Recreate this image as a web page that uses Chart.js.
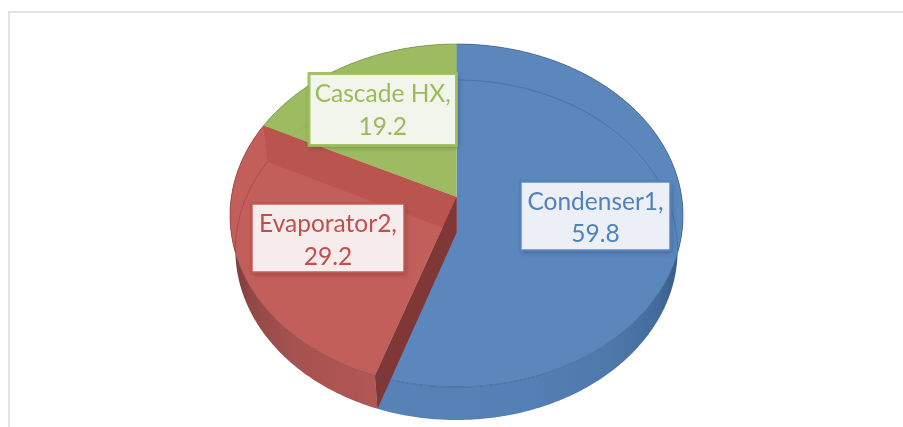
<!DOCTYPE html>
<html>
<head>
<meta charset="utf-8">
<script src="https://cdn.jsdelivr.net/npm/chart.js@4"></script>
<style>
html,body{margin:0;padding:0;background:#fff;overflow:hidden}
#wrap{position:absolute;left:0;top:0;width:903px;height:427px}
#frame{position:absolute;left:8px;top:11px;right:0;bottom:0;border-left:2px solid #e2e2e2;border-top:2px solid #e2e2e2}
canvas{position:absolute;left:0;top:0;filter:blur(0.35px)}
</style>
</head>
<body>
<div id="wrap"><div id="frame"></div><canvas id="c" width="903" height="427"></canvas></div>
<script>
const categories = ['Condenser1', 'Evaporator2', 'Cascade HX'];
const values = [59.8, 29.2, 19.2];
const faceColors = ['#5b87bd', '#c25f5b', '#9dbb61'];
const textColors = ['#4f81bd', '#c0504d', '#9bbb59'];

// Perspective projection of the unit disc onto the page (top and bottom faces)
const topFace = {cx: 456.5, R: 225.2, c: 197, a: 148.25, k: -0.1079};
const botFace = {cx: 456.5, R: 220, c: 233, a: 145, k: -0.1};
function proj(f, ang) {
  const x = Math.cos(ang), y = Math.sin(ang), d = 1 + f.k * y;
  return [f.cx + f.R * x / d, (f.c + f.a * y) / d];
}
function centre(f) { return [f.cx, f.c]; }
function rim(ctx, f, a0, a1, move) {
  const n = Math.max(2, Math.ceil(Math.abs(a1 - a0) / 0.01));
  for (let i = 0; i <= n; i++) {
    const p = proj(f, a0 + (a1 - a0) * i / n);
    if (i === 0 && move) ctx.moveTo(p[0], p[1]); else ctx.lineTo(p[0], p[1]);
  }
}
function wedge(ctx, f, a0, a1) {
  ctx.beginPath();
  const c = centre(f);
  ctx.moveTo(c[0], c[1]);
  rim(ctx, f, a0, a1, false);
  ctx.closePath();
}
function quad(ctx, pts) {
  ctx.beginPath();
  pts.forEach((p, i) => i ? ctx.lineTo(p[0], p[1]) : ctx.moveTo(p[0], p[1]));
  ctx.closePath();
}
function hGrad(ctx, x0, x1, stops) {
  const g = ctx.createLinearGradient(x0, 0, x1, 0);
  stops.forEach(s => g.addColorStop(s[0], s[1]));
  return g;
}

const pie3d = {
  id: 'pie3d',
  beforeDatasetsDraw(chart) {
    const ctx = chart.ctx;
    const arcs = chart.getDatasetMeta(0).data;
    const wallFill = [
      hGrad(ctx, 380, 680, [[0, '#5782b8'], [0.5, '#5580b5'], [0.78, '#4e78aa'], [0.93, '#426b9b'], [1, '#365a86']]),
      hGrad(ctx, 234, 380, [[0, '#7d3b39'], [0.12, '#934846'], [0.4, '#a65250'], [1, '#b25755']]),
      '#8aa655'
    ];
    ctx.save();
    // outer walls
    arcs.forEach((el, i) => {
      ctx.beginPath();
      rim(ctx, topFace, el.startAngle, el.endAngle, true);
      rim(ctx, botFace, el.endAngle, el.startAngle, false);
      ctx.closePath();
      ctx.fillStyle = wallFill[i];
      ctx.fill();
    });
    // top faces
    arcs.forEach((el, i) => {
      wedge(ctx, topFace, el.startAngle, el.endAngle);
      ctx.fillStyle = faceColors[i];
      ctx.fill();
    });
    // radial walls of the red slice, seen through the translucent surface
    const red = arcs[1];
    quad(ctx, [centre(topFace), proj(topFace, red.endAngle), proj(botFace, red.endAngle), centre(botFace)]);
    ctx.fillStyle = '#b9554e';
    ctx.fill();
    quad(ctx, [centre(topFace), proj(topFace, red.startAngle), proj(botFace, red.startAngle), centre(botFace)]);
    ctx.fillStyle = '#7f3836';
    ctx.fill();
    // rim of the lower face, faintly visible through the top face
    ctx.save();
    ctx.beginPath();
    rim(ctx, topFace, 0, Math.PI * 2, true);
    ctx.closePath();
    ctx.clip();
    ctx.lineWidth = 1;
    arcs.forEach((el, i) => {
      ctx.beginPath();
      rim(ctx, botFace, el.startAngle, el.endAngle, true);
      ctx.strokeStyle = ['rgba(50,85,130,.4)', 'rgba(120,50,48,.35)', 'rgba(120,150,70,.18)'][i];
      ctx.stroke();
    });
    ctx.restore();
    // edges of the top face and of the silhouette
    arcs.forEach((el, i) => {
      ctx.beginPath();
      rim(ctx, topFace, el.startAngle, el.endAngle, true);
      ctx.strokeStyle = ['rgba(50,85,130,.6)', 'rgba(120,50,48,.5)', 'rgba(100,125,60,.5)'][i];
      ctx.lineWidth = 1;
      ctx.stroke();
    });
    ctx.restore();
    return false;
  },
  afterDraw(chart) {
    const ctx = chart.ctx;
    const boxes = [
      {x: 520.5, y: 181.5, w: 150, h: 69, lw: 2.5, fill: '#ecf0f6', base: 210, dy: 32},
      {x: 251.5, y: 203.5, w: 153, h: 69, lw: 2.5, fill: '#f6ecec', base: 232, dy: 33},
      {x: 309, y: 73.5, w: 147.5, h: 72, lw: 3, fill: '#f2f5ec', base: 102, dy: 33}
    ];
    ctx.save();
    boxes.forEach((b, i) => {
      ctx.save();
      ctx.shadowColor = 'rgba(0,0,0,.28)';
      ctx.shadowBlur = 5;
      ctx.shadowOffsetX = 1;
      ctx.shadowOffsetY = 2;
      ctx.fillStyle = b.fill;
      ctx.fillRect(b.x, b.y, b.w, b.h);
      ctx.restore();
      ctx.strokeStyle = textColors[i];
      ctx.globalAlpha = 0.9;
      ctx.lineWidth = b.lw;
      ctx.strokeRect(b.x, b.y, b.w, b.h);
      ctx.globalAlpha = 1;
      ctx.fillStyle = textColors[i];
      ctx.font = '24.5px Lato, "Open Sans", sans-serif';
      ctx.textAlign = 'center';
      ctx.textBaseline = 'alphabetic';
      const mx = b.x + b.w / 2;
      ctx.fillText(chart.data.labels[i] + ',', mx, b.base);
      ctx.fillText(String(chart.data.datasets[0].data[i]), mx, b.base + b.dy);
    });
    ctx.restore();
  }
};

new Chart(document.getElementById('c'), {
  type: 'pie',
  data: {
    labels: categories,
    datasets: [{data: values, backgroundColor: faceColors, borderWidth: 0}]
  },
  options: {
    responsive: false,
    animation: false,
    plugins: {legend: {display: false}, tooltip: {enabled: false}}
  },
  plugins: [pie3d]
});
</script>
</body>
</html>
